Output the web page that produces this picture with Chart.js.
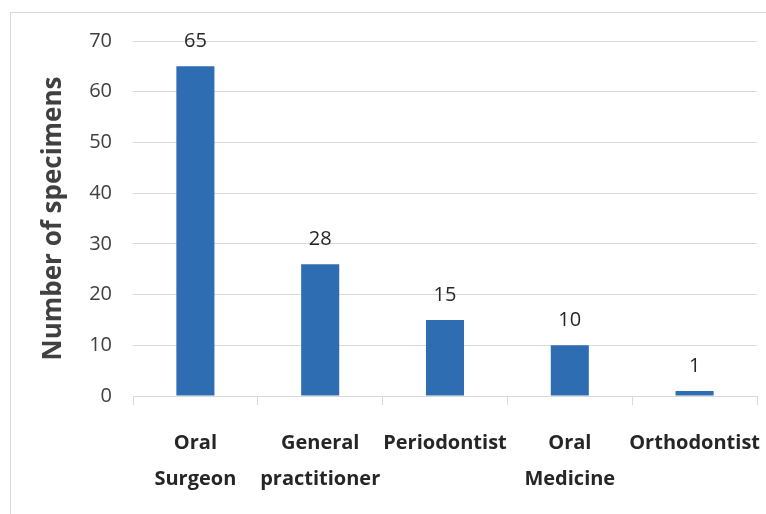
<!DOCTYPE html>
<html>
<head>
<meta charset="utf-8">
<script src="https://cdn.jsdelivr.net/npm/chart.js@4.4.1/dist/chart.umd.min.js"></script>
<style>
  html, body { margin: 0; padding: 0; background: #fff; }
  #wrap { position: relative; width: 766px; height: 514px; overflow: hidden; }
  #frame { position: absolute; left: 10px; top: 12px; width: 800px; height: 600px; border: 1px solid #d9d9d9; }
  #chartCanvas { position: absolute; left: 0; top: 0; }
</style>
</head>
<body>
<div id="wrap">
  <div id="frame"></div>
  <canvas id="chartCanvas" width="766" height="514"></canvas>
</div>
<script>
const categories = [
  ["Oral", "Surgeon"],
  ["General", "practitioner"],
  "Periodontist",
  ["Oral", "Medicine"],
  "Orthodontist"
];
// bar heights as drawn; the labels printed above them
const specimens = [65, 26, 15, 10, 1];
const valueLabels = ["65", "28", "15", "10", "1"];
const yTicks = [0, 10, 20, 30, 40, 50, 60, 70];

const textFont = "'Open Sans', 'DejaVu Sans', sans-serif";

// writes the number above each bar
const valueLabelPlugin = {
  id: "valueLabels",
  afterDatasetsDraw(chart) {
    const ctx = chart.ctx;
    const meta = chart.getDatasetMeta(0);
    ctx.save();
    ctx.font = "20px " + textFont;
    ctx.fillStyle = "#262626";
    ctx.textAlign = "center";
    ctx.textBaseline = "middle";
    meta.data.forEach((bar, i) => {
      ctx.fillText(valueLabels[i], bar.x, bar.y - 25);
    });
    ctx.restore();
  }
};

const ctx = document.getElementById("chartCanvas").getContext("2d");
window.myChart = new Chart(ctx, {
  type: "bar",
  data: {
    labels: categories,
    datasets: [{
      data: specimens,
      backgroundColor: "#2f6db3",
      borderWidth: 0,
      categoryPercentage: 1,
      barPercentage: 0.305
    }]
  },
  options: {
    responsive: false,
    animation: false,
    layout: { padding: { top: 41, right: 9, left: 38, bottom: 0 } },
    plugins: {
      legend: { display: false },
      tooltip: { enabled: false }
    },
    scales: {
      y: {
        min: 0,
        max: 70,
        afterBuildTicks(axis) {
          axis.ticks = yTicks.map((v) => ({ value: v }));
        },
        afterFit(axis) { axis.width = 95; },
        border: { display: false },
        grid: { color: "#d9d9d9", lineWidth: 1, drawTicks: false },
        ticks: {
          padding: 21,
          color: "#404040",
          font: { family: textFont, size: 20 }
        },
        title: {
          display: true,
          text: "Number of specimens",
          color: "#404040",
          font: { family: textFont, size: 26, weight: "bold" },
          padding: { top: 0, bottom: 0 }
        }
      },
      x: {
        afterFit(axis) {
          axis.height = 118;
          axis.paddingLeft = 0;
          axis.paddingRight = 0;
        },
        border: { display: true, color: "#d9d9d9", width: 1 },
        grid: {
          offset: true,
          drawOnChartArea: false,
          drawTicks: true,
          tickLength: 9,
          color: "#d9d9d9"
        },
        ticks: {
          padding: 20,
          maxRotation: 0,
          autoSkip: false,
          color: "#262626",
          font: { family: textFont, size: 20, weight: "bold", lineHeight: 1.8 }
        }
      }
    }
  },
  plugins: [valueLabelPlugin]
});
</script>
</body>
</html>
